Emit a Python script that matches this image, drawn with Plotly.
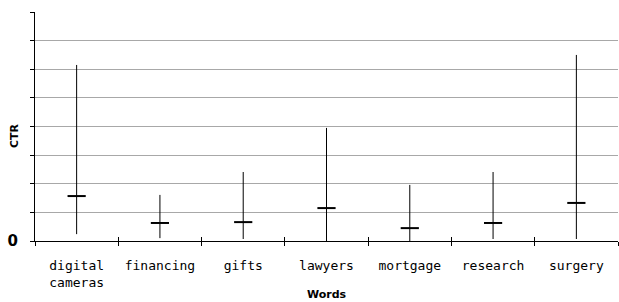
import plotly.graph_objects as go

words = ["digital<br>cameras", "financing", "gifts", "lawyers", "mortgage", "research", "surgery"]
ctr_mean = [1.57, 0.63, 0.66, 1.15, 0.45, 0.63, 1.33]
ctr_high = [6.15, 1.61, 2.41, 3.95, 1.96, 2.41, 6.5]
ctr_low = [0.24, 0.10, 0.07, 0.0, 0.0, 0.07, 0.07]
y_ticks = [0, 1, 2, 3, 4, 5, 6, 7, 8]
y_ticktext = ["0", "", "", "", "", "", "", "", ""]

plus = [h - m for h, m in zip(ctr_high, ctr_mean)]
minus = [m - l for m, l in zip(ctr_mean, ctr_low)]

fig = go.Figure()
fig.add_trace(go.Scatter(
    x=words, y=ctr_mean, mode="markers",
    marker=dict(symbol="line-ew-open", size=13, color="black",
                line=dict(color="black", width=2)),
    error_y=dict(type="data", symmetric=False, array=plus, arrayminus=minus,
                 thickness=1, width=0, color="black"),
    showlegend=False, hoverinfo="skip",
))
# invisible trace on an overlaying axis, only to draw the inner half of the x ticks
fig.add_trace(go.Scatter(
    x=words, y=ctr_mean, mode="markers", xaxis="x2",
    marker=dict(opacity=0), showlegend=False, hoverinfo="skip",
))

W, H = 619, 302
L, R, T, B = 35, 1, 12, 61
ph = H - T - B
pw = W - L - R

fig.update_layout(
    width=W, height=H,
    margin=dict(l=L, r=R, t=T, b=B, autoexpand=False),
    plot_bgcolor="white", paper_bgcolor="white",
    xaxis=dict(
        type="category", range=[-0.5, 6.5], automargin=False,
        showline=True, linecolor="black", linewidth=1,
        ticks="outside", ticklen=4, tickcolor="black", tickson="boundaries",
        showgrid=False, ticklabelstandoff=12,
        tickfont=dict(family="DejaVu Sans Mono", size=13, color="black"),
    ),
    xaxis2=dict(
        type="category", range=[-0.5, 6.5], automargin=False,
        overlaying="x", side="bottom", anchor="y",
        showline=False, showticklabels=False,
        ticks="inside", ticklen=4, tickcolor="black", tickson="boundaries",
        showgrid=False,
    ),
    yaxis=dict(
        range=[0, 8], tickvals=y_ticks, ticktext=y_ticktext, automargin=False,
        showline=True, linecolor="black", linewidth=1,
        ticks="outside", ticklen=4, tickcolor="black",
        showgrid=True, gridcolor="#a8a8a8", gridwidth=1,
        zeroline=False, ticklabelstandoff=9,
        tickfont=dict(family="DejaVu Sans", size=15, color="black", weight="bold"),
    ),
    annotations=[
        dict(text="<b>Words</b>", xref="paper", yref="paper",
             x=(327 - L) / pw, y=-(294 - (H - B)) / ph,
             xanchor="center", yanchor="middle", showarrow=False,
             font=dict(family="DejaVu Sans", size=11, color="black")),
        dict(text="<b>CTR</b>", xref="paper", yref="paper",
             x=(14 - L) / pw, y=(H - B - 135) / ph,
             xanchor="center", yanchor="middle", showarrow=False, textangle=-90,
             font=dict(family="DejaVu Sans", size=11, color="black")),
    ],
)

fig.write_html("out.html", config={"displayModeBar": False},
               post_script="document.body.style.margin='0';document.body.style.overflow='hidden';")
